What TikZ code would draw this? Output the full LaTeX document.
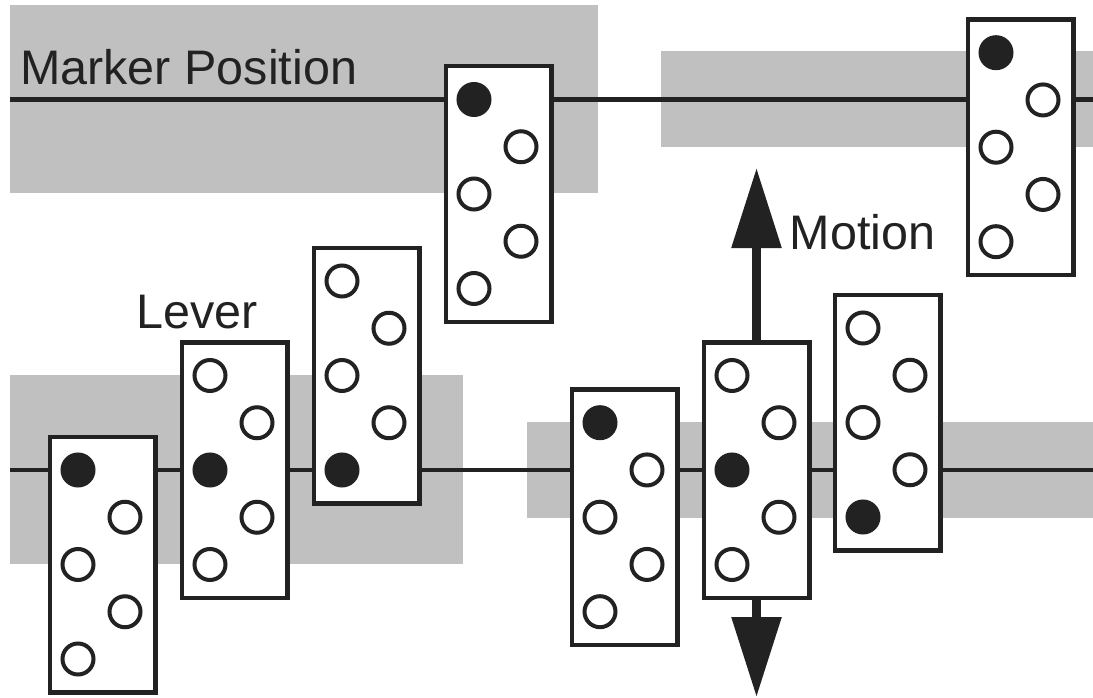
\documentclass[tikz,border=0pt]{standalone}
\usepackage{fontspec}
\setmainfont{Liberation Sans}
\usetikzlibrary{arrows.meta}
\definecolor{ink}{RGB}{34,34,34}
\definecolor{bandgray}{RGB}{192,192,192}
\newcommand\leverbox[4]{%
  \node[boxst] (#1) at ({#2+24.5},{#3+94.5}) {};
  \foreach \k in {1,...,5}{%
    \pgfmathsetmacro\dx{mod(\k+1,2)*47}%
    \pgfmathsetmacro\dy{(\k-1)*47.25}%
    \ifnum\k=#4\relax\def\fc{ink}\else\def\fc{white}\fi
    \node[dot, fill=\fc] (#1-\k) at ({#2+\dx},{#3+\dy}) {};
  }%
}
\begin{document}
\begin{tikzpicture}[x=1pt,y=-1pt,
  boxst/.style={rectangle, draw=ink, line width=4.5pt, fill=white, minimum width=105.5pt, minimum height=255.5pt, inner sep=0pt},
  dot/.style={circle, draw=ink, line width=4pt, minimum size=31pt, inner sep=0pt},
  lbl/.style={font=\fontsize{48.5}{48.5}\selectfont, text=ink, anchor=base west, inner sep=0pt},
  rail/.style={draw=ink, line width=4.5pt},
  band/.style={fill=bandgray},
  motion/.style={draw=ink, line width=9pt, -{Triangle[length=80pt,width=48pt]}},
  ]
\useasboundingbox (0,0) rectangle (1093,698);
% grey bands
\fill[band] (10,5) rectangle (598,193);
\fill[band] (661,51) rectangle (1093,147);
\fill[band] (10,375) rectangle (463,564);
\fill[band] (527,422) rectangle (1093,518);
% rails
\coordinate (topL) at (10,99.5);
\coordinate (topR) at (1093,99.5);
\coordinate (botL) at (10,470);
\coordinate (botR) at (1093,470);
\draw[rail] (topL) -- (topR);
\draw[rail] (botL) -- (botR);
% lever boxes
\leverbox{T1}{474}{99.5}{1}
\leverbox{T2}{996}{52.7}{1}
\leverbox{BLa}{78}{470}{1}
\leverbox{BLb}{210}{375.5}{3}
\leverbox{BLc}{342}{281}{5}
\leverbox{BRa}{600}{422.7}{1}
\leverbox{BRb}{732}{375.5}{3}
\leverbox{BRc}{863}{328}{5}
% motion arrows
\coordinate (mtop) at (756.5,168);
\coordinate (mbot) at (756.5,697);
\draw[motion] (BRb.north) -- (mtop);
\draw[motion] (BRb.south) -- (mbot);
% labels
\node[lbl] (mp) at (20,85) {Marker Position};
\node[lbl] (lev) at (136.5,328) {Lever};
\node[lbl] (mot) at (789.5,249) {Motion};
\end{tikzpicture}
\end{document}
